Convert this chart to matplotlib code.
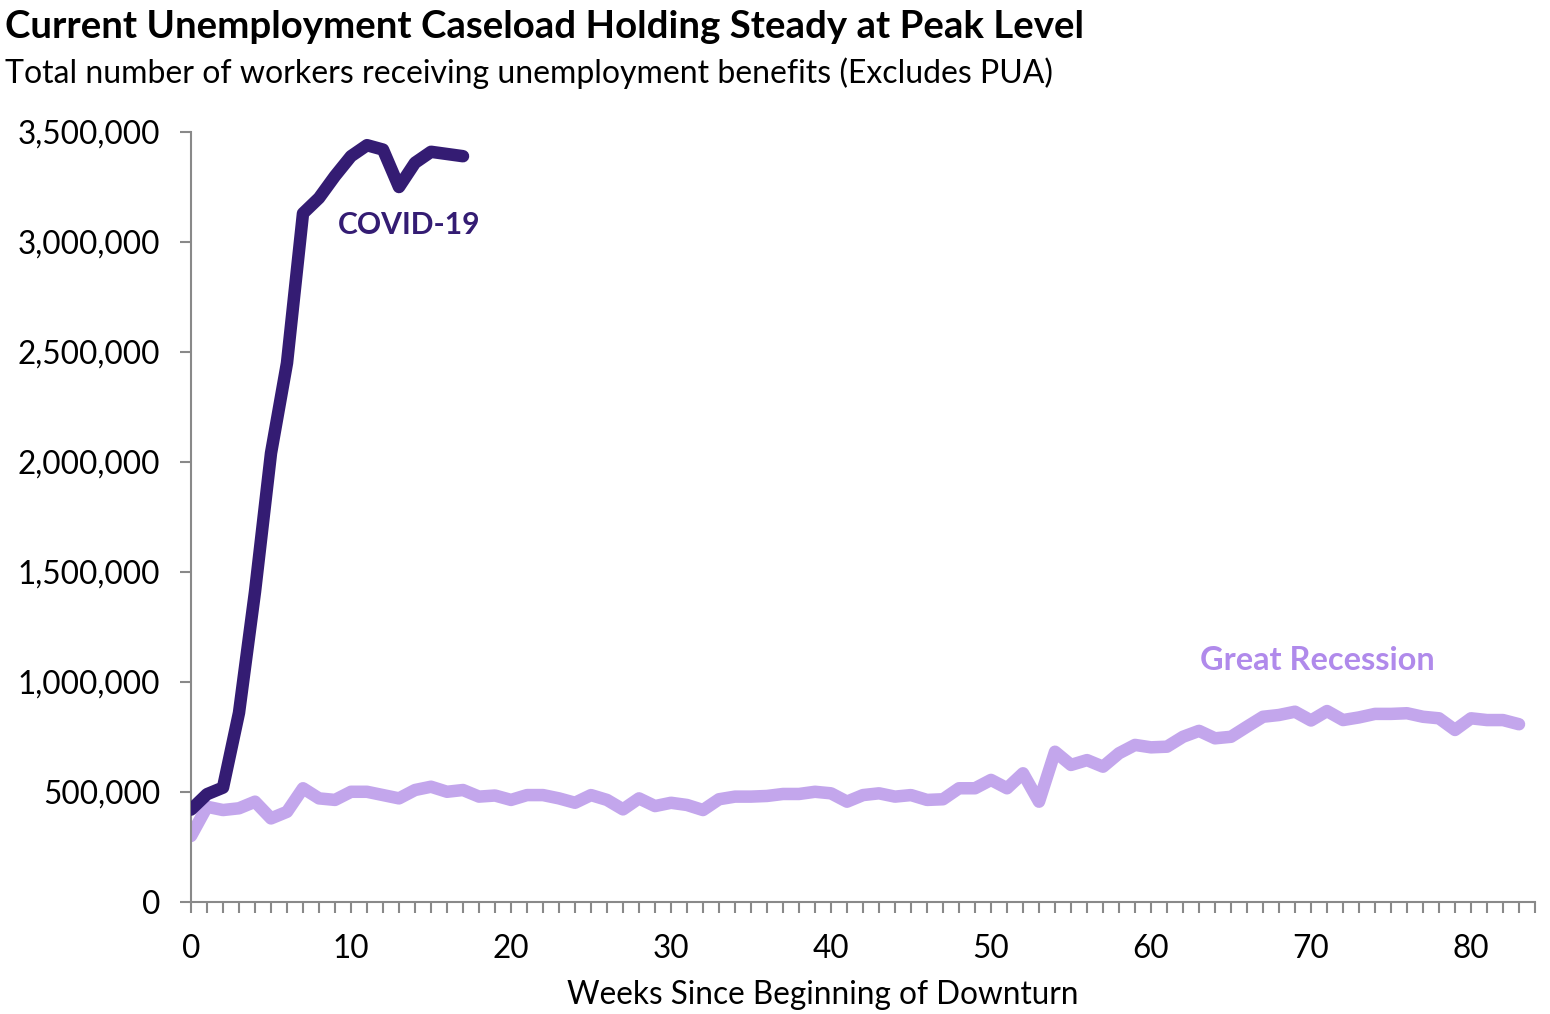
import matplotlib
matplotlib.use("Agg")
import matplotlib.pyplot as plt
from matplotlib.ticker import FuncFormatter, MultipleLocator

plt.rcParams['font.family'] = ['Lato', 'DejaVu Sans']

# Data (values in workers)
covid_weeks = list(range(0, 18))
covid_values = [420000, 490000, 520000, 860000, 1410000, 2040000, 2450000, 3130000,
                3200000, 3300000, 3390000, 3440000, 3420000, 3250000, 3360000,
                3410000, 3400000, 3390000]

gr_weeks = list(range(0, 84))
gr_values = [300000, 433000, 418000, 426000, 456000, 380000, 410000, 517000, 471000, 464000,
             501000, 501000, 486000, 471000, 509000, 524000, 501000, 509000, 479000, 484000,
             464000, 486000, 486000, 471000, 451000, 486000, 464000, 421000, 471000, 436000,
             451000, 441000, 418000, 467000, 479000, 479000, 482000, 491000, 491000, 501000,
             494000, 456000, 486000, 494000, 479000, 486000, 464000, 467000, 517000, 517000,
             555000, 517000, 585000, 456000, 683000, 623000, 645000, 615000, 676000, 714000,
             703000, 706000, 751000, 778000, 744000, 751000, 797000, 842000, 850000, 865000,
             825000, 868000, 827000, 839000, 855000, 855000, 858000, 842000, 835000, 782000,
             835000, 827000, 827000, 808000]

title = "Current Unemployment Caseload Holding Steady at Peak Level"
subtitle = "Total number of workers receiving unemployment benefits (Excludes PUA)"
xlabel = "Weeks Since Beginning of Downturn"

covid_color = "#341C73"
gr_color = "#C3A6EC"
gr_text_color = "#B08AEB"
axis_color = "#898989"

fig = plt.figure(figsize=(15.5, 10.14), dpi=100)
ax = fig.add_axes([191/1550, 1-902/1014, (1535-191)/1550, (902-132)/1014])

ax.plot(gr_weeks, gr_values, color=gr_color, lw=9, solid_joinstyle='round',
        solid_capstyle='round', zorder=2)
ax.plot(covid_weeks, covid_values, color=covid_color, lw=9, solid_joinstyle='round',
        solid_capstyle='round', zorder=3)

ax.set_xlim(0, 84)
ax.set_ylim(0, 3500000)
ax.yaxis.set_major_locator(MultipleLocator(500000))
ax.xaxis.set_major_locator(MultipleLocator(10))
ax.xaxis.set_minor_locator(MultipleLocator(1))
ax.yaxis.set_major_formatter(FuncFormatter(lambda v, p: f"{int(v):,}"))

for s in ['top', 'right']:
    ax.spines[s].set_visible(False)
for s in ['left', 'bottom']:
    ax.spines[s].set_color(axis_color)
    ax.spines[s].set_linewidth(1.5)

ax.tick_params(axis='y', which='major', length=8, width=1.5, color=axis_color,
               labelsize=22.7, pad=14, labelcolor='black')
ax.tick_params(axis='x', which='both', length=8, width=1.5, color=axis_color,
               labelsize=22.7, pad=15, labelcolor='black')

ax.set_xlabel(xlabel, fontsize=22.7, labelpad=14)
ax.xaxis.set_label_coords((823 - 191) / 1344, -(995 - 902) / 770, transform=ax.transAxes)
ax.xaxis.label.set_va('center')

ax.text(9.2, 3077000, "COVID-19", color=covid_color, fontsize=21.6, fontweight='bold',
        ha='left', va='center')
ax.text(63.05, 1100000, "Great Recession", color=gr_text_color, fontsize=23.4,
        fontweight='bold', ha='left', va='center')

fig.text(5/1550, 1-27/1014, title, fontsize=27.6, fontweight='bold', ha='left', va='center')
fig.text(5/1550, 1-73/1014, subtitle, fontsize=23, ha='left', va='center')

fig.savefig("out.png", dpi=100)
